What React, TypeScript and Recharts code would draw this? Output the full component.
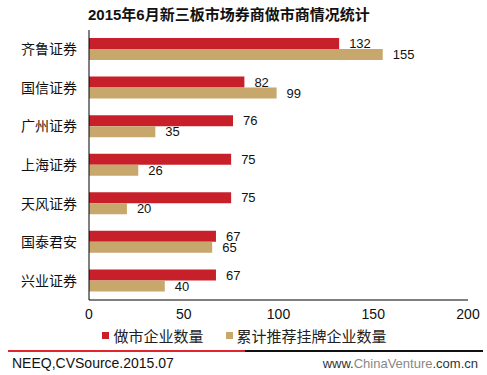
import React from 'react';
import { BarChart, Bar, XAxis, YAxis, LabelList, Legend } from 'recharts';

const brokers = ['齐鲁证券', '国信证券', '广州证券', '上海证券', '天风证券', '国泰君安', '兴业证券'];
const marketMaking = [132, 82, 76, 75, 75, 67, 67];
const recommended = [155, 99, 35, 26, 20, 65, 40];
const xTicks = [0, 50, 100, 150, 200];

const RED = '#C8202B';
const TAN = '#C7A76C';
const FONT = '"Liberation Sans", Arial, "Noto Sans CJK SC", sans-serif';

const data = brokers.map((name, i) => ({ name, making: marketMaking[i], rec: recommended[i] }));

const renderLegend = () => (
  <div style={{ display: 'flex', justifyContent: 'center', fontSize: 15, color: '#222', fontFamily: FONT, paddingLeft: 21 }}>
    <span style={{ display: 'flex', alignItems: 'center', marginRight: 22 }}>
      <span style={{ width: 7, height: 7, background: RED, marginRight: 4 }} />
      做市企业数量
    </span>
    <span style={{ display: 'flex', alignItems: 'center' }}>
      <span style={{ width: 7, height: 7, background: TAN, marginRight: 4 }} />
      累计推荐挂牌企业数量
    </span>
  </div>
);

export default function App() {
  return (
    <div style={{ position: 'absolute', left: 0, top: 0, width: 487, height: 375, background: '#fff', fontFamily: FONT }}>
      <div style={{ position: 'absolute', left: 88, top: 3, fontSize: 15, fontWeight: 'bold', color: '#111' }}>
        2015年6月新三板市场券商做市商情况统计
      </div>
      <BarChart
        width={487}
        height={345}
        data={data}
        layout="vertical"
        margin={{ top: 30, right: 19, left: 0, bottom: 0 }}
        barGap={0}
        barSize={11}
      >
        <XAxis
          type="number"
          domain={[0, 200]}
          ticks={xTicks}
          tickLine={false}
          tickSize={0}
          tickMargin={9}
          axisLine={{ stroke: '#000' }}
          tick={{ fill: '#111', fontSize: 14, fontFamily: FONT }}
          height={25}
        />
        <YAxis
          type="category"
          dataKey="name"
          width={89}
          tickLine={false}
          tickSize={0}
          tickMargin={12}
          axisLine={{ stroke: '#000' }}
          tick={{ fill: '#111', fontSize: 14, fontFamily: FONT }}
        />
        <Legend content={renderLegend} verticalAlign="bottom" height={20} />
        <Bar dataKey="making" name="做市企业数量" fill={RED} isAnimationActive={false}>
          <LabelList dataKey="making" position="right" offset={10} style={{ fill: '#111', fontSize: 13, fontFamily: FONT }} />
        </Bar>
        <Bar dataKey="rec" name="累计推荐挂牌企业数量" fill={TAN} isAnimationActive={false}>
          <LabelList dataKey="rec" position="right" offset={10} style={{ fill: '#111', fontSize: 13, fontFamily: FONT }} />
        </Bar>
      </BarChart>
      <div style={{ position: 'absolute', left: 8, top: 350, width: 237, height: 2, background: '#E0262C' }} />
      <div style={{ position: 'absolute', left: 245, top: 350, width: 238, height: 2, background: '#111' }} />
      <div style={{ position: 'absolute', left: 12, top: 355, fontSize: 14, color: '#111' }}>NEEQ,CVSource.2015.07</div>
      <div style={{ position: 'absolute', right: 9, top: 356, fontSize: 13, color: '#333' }}>
        www.<span style={{ color: '#888' }}>ChinaVenture</span>.com.cn
      </div>
    </div>
  );
}
